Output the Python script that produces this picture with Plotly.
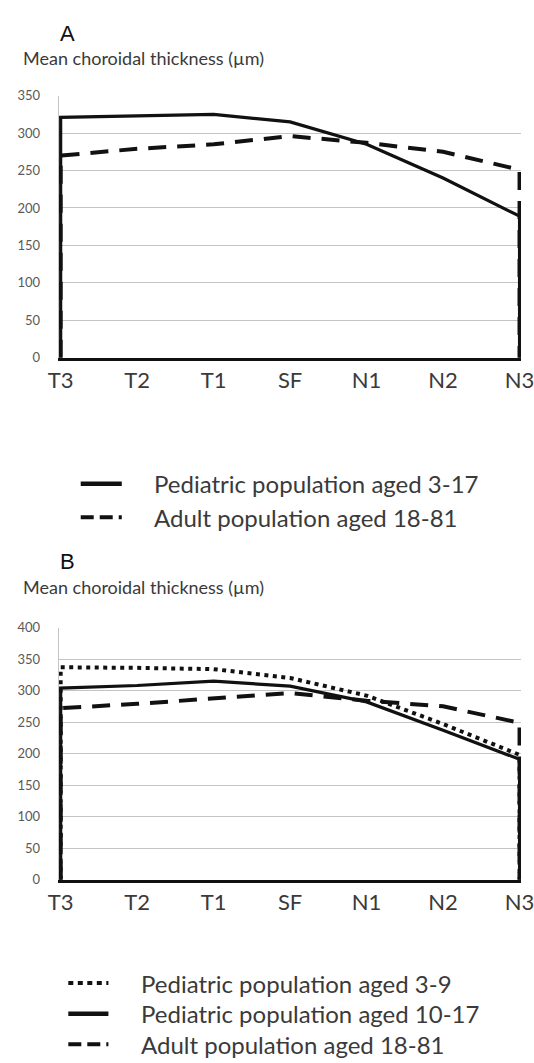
import plotly.graph_objects as go

# Measurement locations along the horizontal scan
locations = ["T3", "T2", "T1", "SF", "N1", "N2", "N3"]

# Panel A: mean choroidal thickness (µm)
ped_3_17 = [321, 323, 325, 315, 285, 240, 189]
adult_18_81 = [270, 279, 285, 296, 287, 275, 251]

# Panel B: mean choroidal thickness (µm)
ped_3_9 = [337, 336, 334, 320, 292, 247, 198]
ped_10_17 = [304, 308, 315, 307, 282, 237, 191]
adult_18_81_b = [272, 279, 287, 296, 284, 275, 249]

yticks_a = [0, 50, 100, 150, 200, 250, 300, 350]
yticks_b = [0, 50, 100, 150, 200, 250, 300, 350, 400]

W, H = 534, 1063
FONT = "Lato"
TXT = "#3a3a3a"

SOLID = dict(color="#111111", width=3.2, dash="solid")
DASHED = dict(color="#111111", width=4, dash="18px,11px")
DOTTED = dict(color="#111111", width=4, dash="4px,4.5px")

fig = go.Figure()

def add_series(xa, ya, y, line, name):
    # each profile drops to the baseline at both ends of the scan
    xs = [locations[0]] + locations + [locations[-1]]
    ys = [0] + list(y) + [0]
    fig.add_trace(go.Scatter(x=xs, y=ys, mode="lines", line=line,
                             name=name, xaxis=xa, yaxis=ya,
                             showlegend=False, cliponaxis=False))

add_series("x", "y", adult_18_81, DASHED, "Adult population aged 18-81")
add_series("x", "y", ped_3_17, SOLID, "Pediatric population aged 3-17")
add_series("x2", "y2", adult_18_81_b, DASHED, "Adult population aged 18-81")
add_series("x2", "y2", ped_10_17, SOLID, "Pediatric population aged 10-17")
add_series("x2", "y2", ped_3_9, DOTTED, "Pediatric population aged 3-9")

def py(px):
    return 1 - px / H

# small padding so the end drops are not clipped by the plot edge
x_dom = [50 / W, 1.0]
x_rng = [-0.025, 6.019]

xaxis_common = dict(
    type="category", categoryorder="array", categoryarray=locations,
    range=x_rng, showgrid=False, zeroline=False, showline=True,
    linecolor="#111111", linewidth=2.5, ticks="", domain=x_dom,
    tickfont=dict(family=FONT, size=22, color=TXT), ticklabelstandoff=1,
)
yaxis_common = dict(
    showgrid=True, gridcolor="#c4c4c4", gridwidth=1, zeroline=False,
    showline=True, linecolor="#c4c4c4", linewidth=1,
    ticks="", tickfont=dict(family=FONT, size=13, color="#595959"),
    ticklabelstandoff=15,
)

fig.update_layout(
    width=W, height=H, margin=dict(l=0, r=0, t=0, b=0),
    paper_bgcolor="white", plot_bgcolor="white",
    xaxis=dict(xaxis_common, anchor="y"),
    yaxis=dict(yaxis_common, domain=[py(355), py(89)], range=[0, 350],
               tickvals=yticks_a, anchor="x"),
    xaxis2=dict(xaxis_common, anchor="y2"),
    yaxis2=dict(yaxis_common, domain=[py(885), py(629)], range=[0, 400],
                tickvals=yticks_b, anchor="x2"),
)

annotations = [
    dict(text="A", x=49 / W, y=py(26), font=dict(family="Liberation Sans", size=22, color="#111")),
    dict(text="Mean choroidal thickness (µm)", x=10 / W, y=py(51),
         font=dict(family=FONT, size=18, color=TXT)),
    dict(text="B", x=49 / W, y=py(562), font=dict(family="Liberation Sans", size=22, color="#111")),
    dict(text="Mean choroidal thickness (µm)", x=10 / W, y=py(588),
         font=dict(family=FONT, size=18, color=TXT)),
]

# Hand-placed legends below each panel
legend_a = [(483, SOLID, "10px,0px", "Pediatric population aged 3-17"),
            (517, DASHED, "13px,6px", "Adult population aged 18-81")]
legend_b = [(990, DOTTED, "5px,4.5px", "Pediatric population aged 3-9"),
            (1021, SOLID, "10px,0px", "Pediatric population aged 10-17"),
            (1052, DASHED, "13px,6px", "Adult population aged 18-81")]

shapes = []
for rows, x0, x1, xt in [(legend_a, 73, 116, 148), (legend_b, 60, 102, 134)]:
    for yy, ln, pattern, label in rows:
        lw = dict(ln)
        lw["dash"] = "solid" if lw["dash"] == "solid" else pattern
        lw["width"] = 4.5 if lw["dash"] == "solid" else 4
        shapes.append(dict(type="line", xref="paper", yref="paper",
                           x0=x0 / W, x1=x1 / W, y0=py(yy), y1=py(yy), line=lw))
        annotations.append(dict(text=label, x=xt / W, y=py(yy),
                                font=dict(family=FONT, size=24, color=TXT)))

for a in annotations:
    a.update(xref="paper", yref="paper", xanchor="left", yanchor="middle",
             showarrow=False)

fig.update_layout(annotations=annotations, shapes=shapes)
fig.write_html("out.html")
